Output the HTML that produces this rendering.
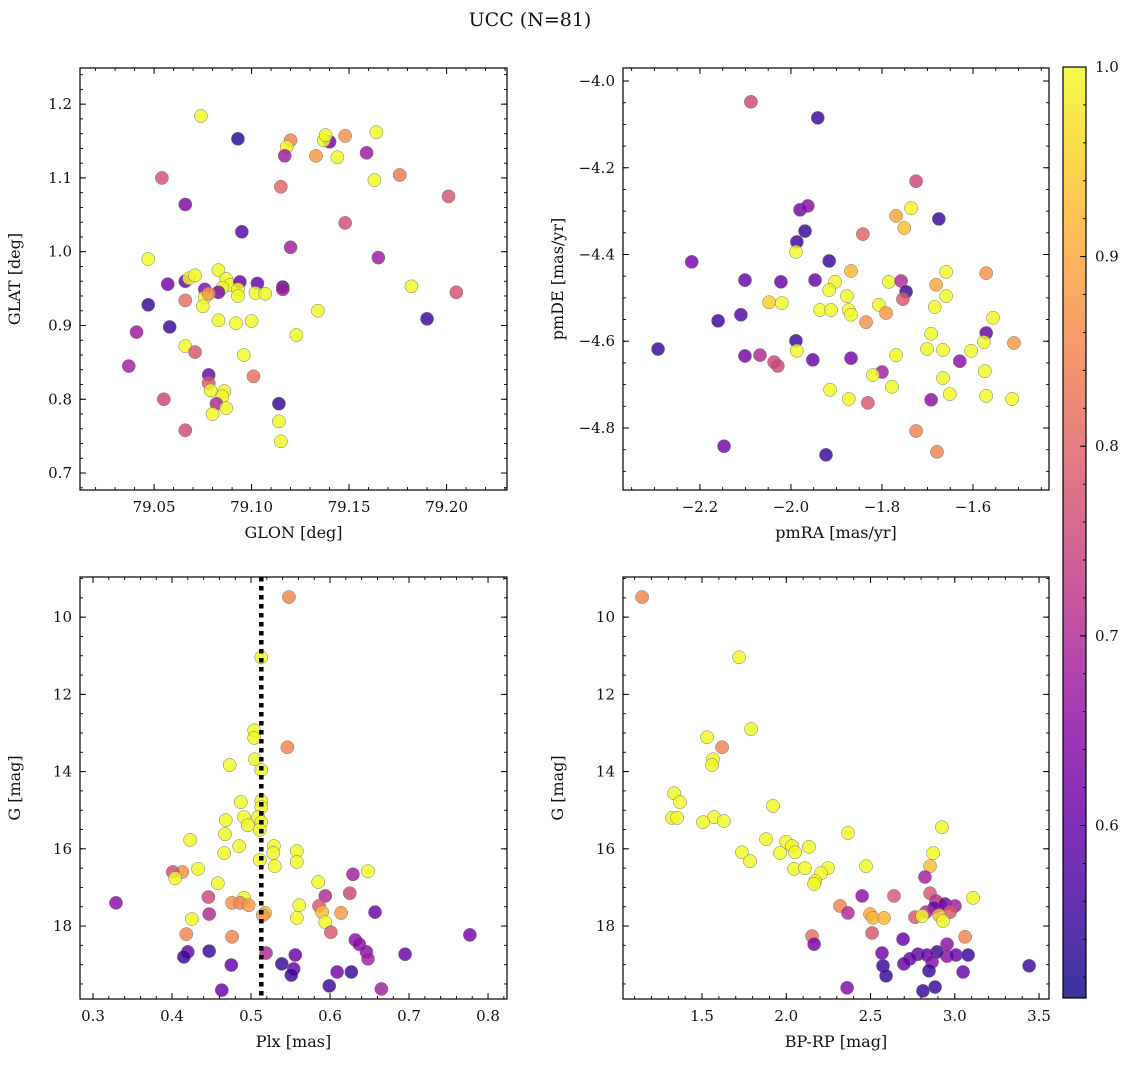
<!DOCTYPE html>
<html><head><meta charset="utf-8"><style>
html,body{margin:0;padding:0;background:#fff;}
svg text{font-family:"DejaVu Serif","Liberation Serif",serif;fill:#111;}
</style></head><body>
<svg id="fig" width="1136" height="1067" viewBox="0 0 1136 1067" xmlns="http://www.w3.org/2000/svg">
<defs>
<linearGradient id="plasma" x1="0" y1="1" x2="0" y2="0">
<stop offset="0" stop-color="#0d0887"/><stop offset="0.1" stop-color="#41049d"/><stop offset="0.2" stop-color="#6a00a8"/><stop offset="0.3" stop-color="#8f0da4"/><stop offset="0.4" stop-color="#b12a90"/><stop offset="0.5" stop-color="#cc4778"/><stop offset="0.6" stop-color="#e16462"/><stop offset="0.7" stop-color="#f2844b"/><stop offset="0.8" stop-color="#fca636"/><stop offset="0.9" stop-color="#fcce25"/><stop offset="1" stop-color="#f0f921"/>
</linearGradient>
</defs>
<text x="530" y="26" font-size="19" text-anchor="middle">UCC (N=81)</text>
</svg>
<script>
// ---- Panel 1: GLON vs GLAT ----
const glonVals=[79.074,79.093,79.120,79.118,79.117,79.140,79.137,79.138,79.148,79.164,79.133,79.144,79.159,79.054,79.163,79.176,79.115,79.066,79.201,79.148,79.095,79.120,79.047,79.165,79.083,79.057,79.066,79.068,79.071,79.087,79.089,79.094,79.103,79.116,79.116,79.085,79.083,79.076,79.093,79.093,79.076,79.078,79.102,79.107,79.182,79.205,79.047,79.075,79.066,79.134,79.041,79.058,79.083,79.092,79.100,79.123,79.190,79.066,79.071,79.096,79.037,79.078,79.101,79.078,79.079,79.086,79.085,79.055,79.082,79.114,79.087,79.080,79.114,79.066,79.115];
const glatVals=[1.184,1.153,1.151,1.142,1.130,1.149,1.151,1.158,1.157,1.162,1.130,1.128,1.134,1.100,1.097,1.104,1.088,1.064,1.075,1.039,1.027,1.006,0.990,0.992,0.975,0.956,0.960,0.964,0.968,0.963,0.955,0.959,0.957,0.952,0.949,0.951,0.945,0.949,0.949,0.940,0.938,0.943,0.944,0.943,0.953,0.945,0.928,0.926,0.934,0.920,0.891,0.898,0.907,0.903,0.906,0.887,0.909,0.872,0.864,0.860,0.845,0.833,0.831,0.822,0.812,0.811,0.804,0.800,0.794,0.794,0.788,0.780,0.770,0.758,0.743];
const prob1=[1,0.53,0.85,1,0.68,0.62,1,1,0.87,1,0.88,1,0.67,0.77,1,0.83,0.8,0.63,0.77,0.76,0.58,0.68,1,0.67,1,0.62,0.6,1,1,1,1,0.6,0.6,0.55,0.68,1,0.62,0.63,1,1,1,0.88,1,1,1,0.77,0.55,1,0.82,1,0.67,0.55,1,1,1,1,0.55,1,0.78,1,0.68,0.6,0.82,0.78,1,1,1,0.75,0.7,0.55,1,1,1,0.76,1];
// ---- Panel 2: pmRA vs pmDE ----
const pmraVals=[-2.088,-1.941,-1.725,-1.736,-1.980,-1.963,-1.769,-1.675,-1.751,-1.969,-1.987,-1.842,-1.989,-2.218,-1.916,-1.868,-1.659,-1.571,-2.101,-2.022,-1.947,-1.903,-1.785,-1.758,-1.681,-1.747,-1.916,-1.877,-1.754,-1.659,-2.048,-2.020,-1.807,-1.791,-1.873,-1.936,-1.912,-1.868,-1.684,-1.556,-2.160,-1.835,-2.110,-1.692,-1.571,-1.989,-1.576,-1.510,-2.292,-1.987,-1.701,-1.666,-1.604,-2.101,-2.068,-1.952,-1.868,-1.769,-2.037,-2.029,-1.629,-1.800,-1.574,-1.820,-1.666,-1.778,-1.914,-1.651,-1.692,-1.873,-1.571,-1.514,-1.831,-1.725,-2.147,-1.923,-1.679];
const pmdeVals=[-4.048,-4.085,-4.231,-4.293,-4.297,-4.288,-4.311,-4.318,-4.339,-4.346,-4.371,-4.353,-4.394,-4.417,-4.415,-4.438,-4.440,-4.443,-4.459,-4.463,-4.459,-4.463,-4.463,-4.461,-4.470,-4.486,-4.482,-4.496,-4.503,-4.496,-4.510,-4.512,-4.516,-4.535,-4.528,-4.528,-4.528,-4.539,-4.521,-4.546,-4.553,-4.556,-4.539,-4.583,-4.581,-4.599,-4.602,-4.604,-4.618,-4.622,-4.618,-4.620,-4.622,-4.634,-4.632,-4.643,-4.639,-4.632,-4.648,-4.657,-4.646,-4.671,-4.669,-4.678,-4.685,-4.705,-4.712,-4.722,-4.735,-4.733,-4.726,-4.733,-4.742,-4.807,-4.842,-4.862,-4.855];
const prob2=[0.75,0.55,0.75,1,0.62,0.65,0.9,0.55,0.93,0.55,0.55,0.8,1,0.62,0.55,0.92,1,0.87,0.6,0.6,0.6,1,1,0.7,0.9,0.55,1,1,0.78,1,0.95,1,1,0.88,1,1,1,1,1,1,0.55,0.87,0.58,1,0.6,0.55,1,0.88,0.55,1,1,1,1,0.62,0.7,0.6,0.62,1,0.75,0.75,0.65,0.68,1,1,1,1,1,1,0.65,1,1,1,0.78,0.85,0.62,0.55,0.85];
// ---- Panel 3: Plx vs G ----
const plxVals=[0.548,0.513,0.504,0.504,0.546,0.505,0.473,0.513,0.487,0.513,0.468,0.513,0.491,0.509,0.513,0.496,0.511,0.467,0.423,0.485,0.529,0.558,0.466,0.528,0.511,0.558,0.530,0.413,0.401,0.433,0.404,0.648,0.629,0.458,0.585,0.625,0.446,0.594,0.491,0.476,0.486,0.497,0.561,0.586,0.329,0.447,0.425,0.518,0.515,0.558,0.590,0.614,0.594,0.657,0.601,0.418,0.476,0.777,0.632,0.637,0.646,0.648,0.420,0.415,0.447,0.519,0.556,0.695,0.539,0.475,0.554,0.551,0.609,0.627,0.463,0.599,0.665];
const g3Vals=[9.48,11.04,12.93,13.13,13.37,13.68,13.83,13.96,14.79,14.76,15.26,14.92,15.18,15.18,15.31,15.39,15.51,15.62,15.77,15.93,15.93,16.06,16.11,16.11,16.29,16.34,16.45,16.60,16.60,16.52,16.76,16.58,16.66,16.89,16.86,17.15,17.25,17.22,17.27,17.40,17.40,17.46,17.46,17.48,17.40,17.69,17.82,17.66,17.72,17.79,17.64,17.66,17.90,17.64,18.16,18.21,18.28,18.23,18.36,18.47,18.67,18.85,18.67,18.80,18.65,18.70,18.75,18.73,18.98,19.01,19.11,19.27,19.19,19.19,19.66,19.55,19.63];
const prob3=[0.85,1,1,1,0.85,1,1,1,1,1,1,1,1,1,1,1,1,1,1,1,1,1,1,1,1,1,1,0.87,0.76,1,1,1,0.68,1,1,0.75,0.75,0.7,1,0.87,0.85,0.88,1,0.78,0.65,0.7,1,0.93,0.88,1,0.93,0.88,1,0.6,0.78,0.85,0.85,0.62,0.65,0.65,0.65,0.68,0.6,0.55,0.55,0.7,0.6,0.6,0.55,0.6,0.6,0.55,0.62,0.55,0.6,0.55,0.68];
const plxRef=[0.513];
// ---- Panel 4: BP-RP vs G ----
const bprpVals=[1.144,1.720,1.791,1.530,1.619,1.565,1.559,1.334,1.369,1.921,1.571,1.630,1.322,1.352,1.506,2.924,2.366,1.880,1.999,2.034,2.135,2.052,1.963,1.737,1.785,2.871,2.046,2.111,2.248,2.206,2.473,2.171,2.853,2.165,2.823,2.450,2.639,2.853,2.888,2.912,3.108,2.877,2.942,3.001,2.829,2.972,2.764,2.497,2.806,2.907,2.930,2.319,2.366,2.515,2.580,2.509,2.153,2.693,3.061,2.165,2.954,2.568,2.781,2.954,3.007,2.895,2.835,3.079,2.865,2.734,2.698,2.574,3.441,2.847,3.049,2.592,2.361,2.883,2.811];
const g4Vals=[9.48,11.04,12.90,13.11,13.37,13.68,13.83,14.56,14.79,14.89,15.18,15.28,15.20,15.20,15.31,15.44,15.59,15.75,15.82,15.93,15.95,16.09,16.11,16.09,16.32,16.11,16.52,16.50,16.50,16.63,16.45,16.84,16.45,16.91,16.73,17.22,17.22,17.15,17.35,17.46,17.27,17.53,17.43,17.48,17.64,17.64,17.77,17.69,17.74,17.72,17.87,17.48,17.66,17.79,17.79,18.18,18.26,18.34,18.28,18.47,18.47,18.70,18.73,18.78,18.75,18.67,18.75,18.75,18.93,18.85,18.98,19.03,19.03,19.16,19.19,19.29,19.60,19.58,19.68];
const prob4=[0.85,1,1,1,0.85,1,1,1,1,1,1,1,1,1,1,1,1,1,1,1,1,1,1,1,1,1,1,1,1,1,1,1,0.93,1,0.68,0.65,0.78,0.78,0.7,0.78,1,0.6,0.6,0.68,0.7,0.78,0.78,0.9,1,0.93,1,0.85,0.7,0.92,0.92,0.78,0.82,0.6,0.85,0.62,0.65,0.62,0.6,0.65,0.6,0.55,0.6,0.55,0.65,0.6,0.6,0.55,0.55,0.55,0.6,0.55,0.63,0.55,0.55];
// ---- Ticks ----
const ticks1x=[79.05,79.10,79.15,79.20], ticks1y=[0.7,0.8,0.9,1.0,1.1,1.2];
const ticks2x=[-2.2,-2.0,-1.8,-1.6], ticks2y=[-4.0,-4.2,-4.4,-4.6,-4.8];
const ticks3x=[0.3,0.4,0.5,0.6,0.7,0.8], ticksGy=[10,12,14,16,18];
const ticks4x=[1.5,2.0,2.5,3.0,3.5];
const cbTicks=[0.6,0.7,0.8,0.9,1.0];
const VMIN=0.509, VMAX=1.0;

const NS='http://www.w3.org/2000/svg';
const svg=document.getElementById('fig');
function mk(tag,attrs,parent){const e=document.createElementNS(NS,tag);for(const k in attrs)e.setAttribute(k,attrs[k]);(parent||svg).appendChild(e);return e;}
const stops=[[13,8,135],[65,4,157],[106,0,168],[143,13,164],[177,42,144],[204,71,120],[225,100,98],[242,132,75],[252,166,54],[252,206,37],[240,249,33]];
function cmap(v){let t=(v-VMIN)/(VMAX-VMIN);t=Math.max(0,Math.min(1,t))*10;const i=Math.min(9,Math.floor(t)),f=t-i;const a=stops[i],b=stops[i+1];return 'rgb('+[0,1,2].map(k=>Math.round(a[k]+(b[k]-a[k])*f)).join(',')+')';}
function fmt(v,d){let s=v.toFixed(d);return s.replace('-','\u2212');}

function panel(p){
  const g=mk('g',{});
  
  
  const sx=v=>p.x0+(v-p.xd[0])/(p.xd[1]-p.xd[0])*(p.x1-p.x0);
  const sy=v=>p.inv? p.y0+(v-p.yd[0])/(p.yd[1]-p.yd[0])*(p.y1-p.y0) : p.y1-(v-p.yd[0])/(p.yd[1]-p.yd[0])*(p.y1-p.y0);
  const pg=mk('g',{},g);
  
  
  for(let i=0;i<p.xs.length;i++){
    const c=mk('circle',{cx:sx(p.xs[i]),cy:sy(p.ys[i]),r:6.6,fill:cmap(p.ps[i]),'fill-opacity':0.82,stroke:'#777','stroke-width':0.5},pg);
    
    
  }
  if(p.vline){for(const v of p.vline){const l=mk('line',{x1:sx(v),x2:sx(v),y1:p.y0,y2:p.y1,stroke:'#000','stroke-width':4.5,'stroke-dasharray':'4.5,4.5'},g);
    
    }}
  const fr=mk('rect',{x:p.x0,y:p.y0,width:p.x1-p.x0,height:p.y1-p.y0,fill:'none',stroke:'#000','stroke-width':1.2},g);
  
  
  const eps=1e-9;
  for(let v=Math.ceil(p.xd[0]/p.xm-eps)*p.xm;v<=p.xd[1]+eps;v+=p.xm){const X=sx(v);
    mk('line',{x1:X,x2:X,y1:p.y1,y2:p.y1-3,stroke:'#000','stroke-width':0.9},g);mk('line',{x1:X,x2:X,y1:p.y0,y2:p.y0+3,stroke:'#000','stroke-width':0.9},g);}
  for(let v=Math.ceil(p.yd[0]/p.ym-eps)*p.ym;v<=p.yd[1]+eps;v+=p.ym){const Y=sy(v);
    mk('line',{x1:p.x0,x2:p.x0+3,y1:Y,y2:Y,stroke:'#000','stroke-width':0.9},g);mk('line',{x1:p.x1,x2:p.x1-3,y1:Y,y2:Y,stroke:'#000','stroke-width':0.9},g);}
  for(const v of p.xt){const X=sx(v);
    mk('line',{x1:X,x2:X,y1:p.y1,y2:p.y1-6,stroke:'#000','stroke-width':1},g);mk('line',{x1:X,x2:X,y1:p.y0,y2:p.y0+6,stroke:'#000','stroke-width':1},g);
    const t=mk('text',{x:X,y:p.y1+22,'font-size':15,'text-anchor':'middle'},g);t.textContent=fmt(v,p.xdp);
    
    }
  for(const v of p.yt){const Y=sy(v);
    mk('line',{x1:p.x0,x2:p.x0+6,y1:Y,y2:Y,stroke:'#000','stroke-width':1},g);mk('line',{x1:p.x1,x2:p.x1-6,y1:Y,y2:Y,stroke:'#000','stroke-width':1},g);
    const t=mk('text',{x:p.x0-8,y:Y+5,'font-size':15,'text-anchor':'end'},g);t.textContent=fmt(v,p.ydp);
    
    }
  const xl=mk('text',{x:(p.x0+p.x1)/2,y:p.y1+48,'font-size':16,'text-anchor':'middle'},g);xl.textContent=p.xlab;
  
  
  const yx=p.x0-60,yy=(p.y0+p.y1)/2;
  const yl=mk('text',{x:yx,y:yy,'font-size':16,'text-anchor':'middle',transform:'rotate(-90 '+yx+' '+yy+')'},g);yl.textContent=p.ylab;
  
  
}
panel({name:'glon-glat-panel',x0:80,x1:507,y0:68,y1:490,xd:[79.012,79.231],yd:[0.677,1.249],inv:false,xs:glonVals,ys:glatVals,ps:prob1,xt:ticks1x,yt:ticks1y,xm:0.01,ym:0.02,xdp:2,ydp:1,xlab:'GLON [deg]',ylab:'GLAT [deg]'});
panel({name:'pm-panel',x0:623,x1:1049,y0:68,y1:490,xd:[-2.369,-1.433],yd:[-4.943,-3.970],inv:false,xs:pmraVals,ys:pmdeVals,ps:prob2,xt:ticks2x,yt:ticks2y,xm:0.05,ym:0.05,xdp:1,ydp:1,xlab:'pmRA [mas/yr]',ylab:'pmDE [mas/yr]'});
panel({name:'plx-g-panel',x0:80,x1:507,y0:577,y1:999,xd:[0.2835,0.824],yd:[8.96,19.89],inv:true,xs:plxVals,ys:g3Vals,ps:prob3,xt:ticks3x,yt:ticksGy,xm:0.02,ym:0.5,xdp:1,ydp:0,xlab:'Plx [mas]',ylab:'G [mag]',vline:plxRef});
panel({name:'cmd-panel',x0:623,x1:1049,y0:577,y1:999,xd:[1.031,3.559],yd:[8.96,19.89],inv:true,xs:bprpVals,ys:g4Vals,ps:prob4,xt:ticks4x,yt:ticksGy,xm:0.1,ym:0.5,xdp:1,ydp:0,xlab:'BP-RP [mag]',ylab:'G [mag]'});
(function(){
  const x0=1063,x1=1086,y0=67,y1=998;
  const g=mk('g',{});
  
  
  mk('rect',{x:x0,y:y0,width:x1-x0,height:y1-y0,fill:'url(#plasma)','fill-opacity':0.82},g);
  mk('rect',{x:x0,y:y0,width:x1-x0,height:y1-y0,fill:'none',stroke:'#000','stroke-width':1.2},g);
  const sy=v=>y1-(v-VMIN)/(VMAX-VMIN)*(y1-y0);
  for(let v=0.52;v<=1.0001;v+=0.02){const Y=sy(v);mk('line',{x1:x1,x2:x1-3,y1:Y,y2:Y,stroke:'#000','stroke-width':0.9},g);}
  for(const v of cbTicks){const Y=sy(v);
    mk('line',{x1:x1,x2:x1-6,y1:Y,y2:Y,stroke:'#000','stroke-width':1},g);
    const t=mk('text',{x:x1+9,y:Y+5,'font-size':15},g);t.textContent=v.toFixed(1);
    
    }
})();
</script>
</body></html>
